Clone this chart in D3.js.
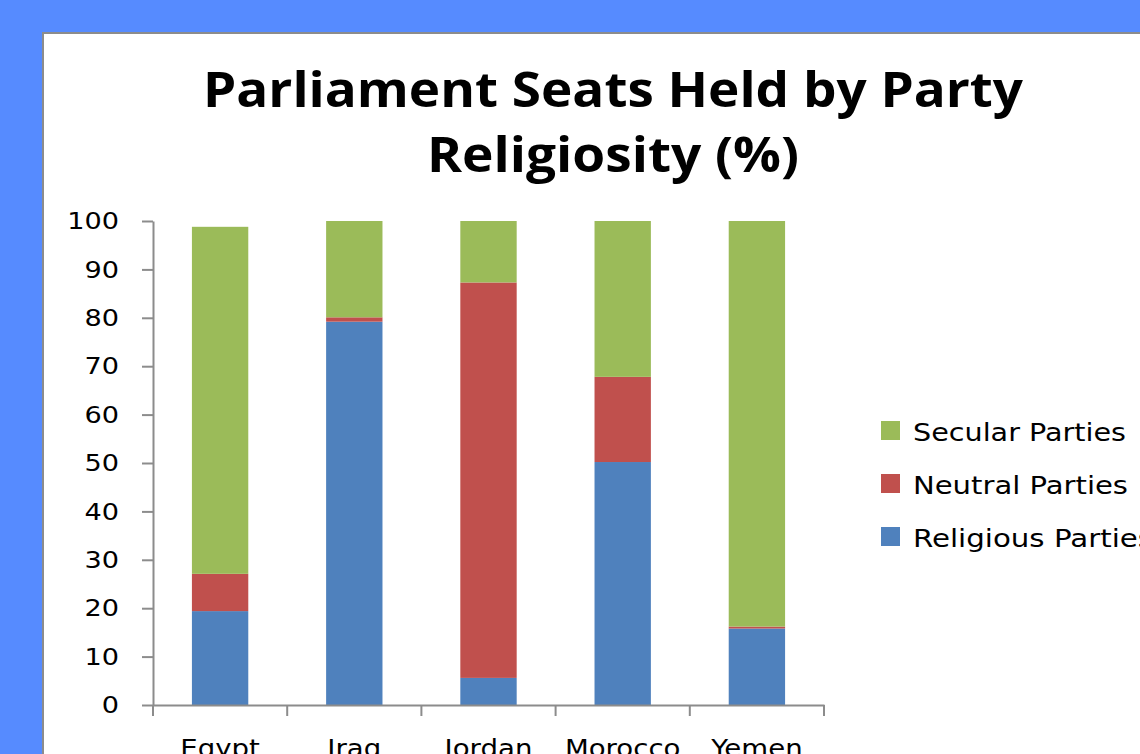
<!DOCTYPE html>
<html><head><meta charset="utf-8">
<script src="https://cdn.jsdelivr.net/npm/d3@7"></script>
<style>html,body{margin:0;padding:0;background:#568BFF;}svg{display:block;}</style>
</head><body>
<script>
const categories = ["Egypt","Iraq","Jordan","Morocco","Yemen"];
const religious = [19.4, 79.2, 5.6, 50.2, 15.8];
const neutral   = [7.7, 0.9, 81.7, 17.6, 0.4];
const secular   = [71.7, 19.9, 12.7, 32.2, 83.8];
const seriesNames = ["Religious Parties","Neutral Parties","Secular Parties"];
const seriesColors = ["#4F81BD","#C0504D","#9BBB59"];
const yTicks = [0,10,20,30,40,50,60,70,80,90,100];
const titleLines = ["Parliament Seats Held by Party","Religiosity (%)"];

const W=1140,H=754;
const svg=d3.select("body").append("svg").attr("width",W).attr("height",H);
svg.append("rect").attr("width",W).attr("height",H).attr("fill","#568BFF");
svg.append("rect").attr("x",43).attr("y",33).attr("width",W).attr("height",H)
  .attr("fill","#fff").attr("stroke","#8C8C8C").attr("stroke-width",2);

// title
const titleY=[107,172], titleW=[820,372];
titleLines.forEach((t,i)=>{
  svg.append("text").attr("x",613).attr("y",titleY[i]).attr("text-anchor","middle")
    .attr("font-family","'Open Sans', sans-serif").attr("font-weight","bold")
    .attr("font-size",48).attr("fill","#000")
    .attr("textLength",titleW[i]).attr("lengthAdjust","spacingAndGlyphs").text(t);
});

const x=d3.scaleBand().domain(categories).range([153,824]).paddingInner(0.58).paddingOuter(0.29);
const y=d3.scaleLinear().domain([0,100]).range([705,221]);

const rows=categories.map((c,i)=>({cat:c,"Religious Parties":religious[i],"Neutral Parties":neutral[i],"Secular Parties":secular[i]}));
const stack=d3.stack().keys(seriesNames)(rows);
stack.forEach((s,si)=>{
  svg.append("g").selectAll("rect").data(s).join("rect")
    .attr("x",d=>x(d.data.cat)).attr("width",x.bandwidth())
    .attr("y",d=>y(d[1])).attr("height",d=>y(d[0])-y(d[1]))
    .attr("fill",seriesColors[si]);
});

// y axis
const ya=svg.append("g").attr("transform","translate(153,0)")
  .call(d3.axisLeft(y).tickValues(yTicks).tickSize(11).tickSizeOuter(0).tickFormat(d3.format("d")));
ya.select(".domain").attr("stroke","#8C8C8C").attr("stroke-width",2);
ya.selectAll(".tick line").attr("stroke","#8C8C8C").attr("stroke-width",2);
ya.selectAll(".tick text").attr("x",0).attr("dy",null)
  .attr("font-family","'DejaVu Sans', sans-serif").attr("font-size",23).attr("fill","#000")
  .attr("text-anchor","end").attr("dominant-baseline","central")
  .attr("transform","translate(-34,0) scale(1.18,1)");

// x axis
const xa=svg.append("g").attr("transform","translate(0,705)")
  .call(d3.axisBottom(x).tickSize(0).tickSizeOuter(0));
xa.select(".domain").attr("stroke","#8C8C8C").attr("stroke-width",2);
xa.selectAll(".tick text").attr("y",0).attr("dy",null)
  .attr("font-family","'DejaVu Sans', sans-serif").attr("font-size",24).attr("fill","#000")
  .attr("transform","translate(0,751) scale(1.15,1)".replace("751","52"));
const edges=categories.map(c=>x(c)-x.step()*x.paddingInner()/2);
edges[0]=153;
edges.push(824);
svg.append("g").selectAll("line").data(edges).join("line")
  .attr("x1",d=>d).attr("x2",d=>d).attr("y1",705).attr("y2",716)
  .attr("stroke","#8C8C8C").attr("stroke-width",2);

// legend
const legOrder=[2,1,0];
const legW=[213,215,240];
legOrder.forEach((si,k)=>{
  const ly=421+k*53;
  svg.append("rect").attr("x",881).attr("y",ly).attr("width",19).attr("height",19).attr("fill",seriesColors[si]);
  svg.append("text").attr("x",913).attr("y",ly+20).attr("font-family","'DejaVu Sans', sans-serif")
    .attr("font-size",24).attr("fill","#000")
    .attr("textLength",legW[k]).attr("lengthAdjust","spacingAndGlyphs").text(seriesNames[si]);
});
</script>
</body></html>
